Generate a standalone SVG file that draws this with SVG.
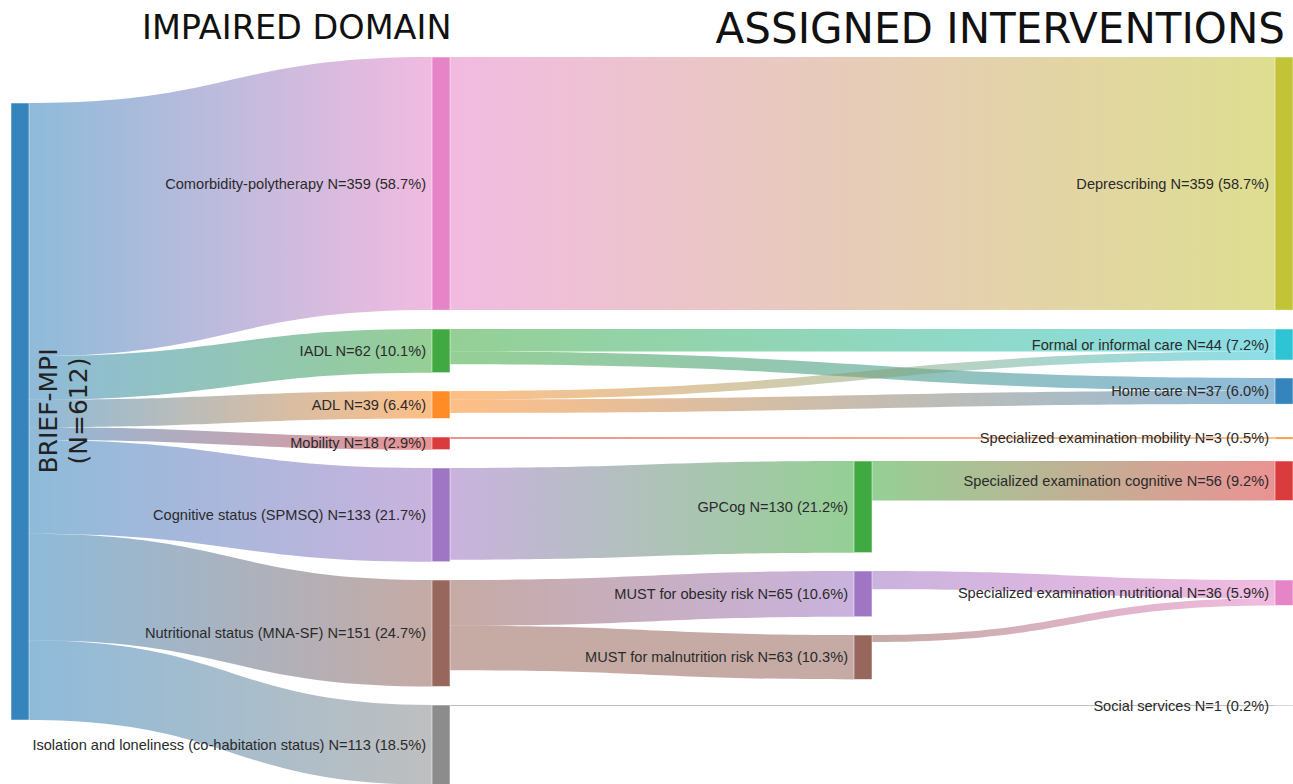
<svg xmlns="http://www.w3.org/2000/svg" width="1293" height="784" viewBox="0 0 1293 784">
<style>
.node{stroke:#fff;stroke-width:0.5;fill-opacity:0.9}
.link{fill-opacity:0.5;stroke:none}
.lbl{font-family:"Liberation Sans",Arial,sans-serif;font-size:14.6px;fill:#2a2a2a;text-anchor:end}
.title{font-family:"DejaVu Sans",Verdana,sans-serif;fill:#111}
.src{font-family:"DejaVu Sans",Verdana,sans-serif;font-size:25px;fill:#222;text-anchor:middle}
</style>
<defs>
<linearGradient id="g1" gradientUnits="userSpaceOnUse" x1="29" y1="0" x2="432" y2="0"><stop offset="0" stop-color="#1f77b4"/><stop offset="1" stop-color="#e377c2"/></linearGradient>
<linearGradient id="g2" gradientUnits="userSpaceOnUse" x1="29" y1="0" x2="432" y2="0"><stop offset="0" stop-color="#1f77b4"/><stop offset="1" stop-color="#2ca02c"/></linearGradient>
<linearGradient id="g3" gradientUnits="userSpaceOnUse" x1="29" y1="0" x2="432" y2="0"><stop offset="0" stop-color="#1f77b4"/><stop offset="1" stop-color="#ff7f0e"/></linearGradient>
<linearGradient id="g4" gradientUnits="userSpaceOnUse" x1="29" y1="0" x2="432" y2="0"><stop offset="0" stop-color="#1f77b4"/><stop offset="1" stop-color="#d62728"/></linearGradient>
<linearGradient id="g5" gradientUnits="userSpaceOnUse" x1="29" y1="0" x2="432" y2="0"><stop offset="0" stop-color="#1f77b4"/><stop offset="1" stop-color="#9467bd"/></linearGradient>
<linearGradient id="g6" gradientUnits="userSpaceOnUse" x1="29" y1="0" x2="432" y2="0"><stop offset="0" stop-color="#1f77b4"/><stop offset="1" stop-color="#8c564b"/></linearGradient>
<linearGradient id="g7" gradientUnits="userSpaceOnUse" x1="29" y1="0" x2="432" y2="0"><stop offset="0" stop-color="#1f77b4"/><stop offset="1" stop-color="#7f7f7f"/></linearGradient>
<linearGradient id="g8" gradientUnits="userSpaceOnUse" x1="450" y1="0" x2="1275" y2="0"><stop offset="0" stop-color="#e377c2"/><stop offset="1" stop-color="#bcbd22"/></linearGradient>
<linearGradient id="g9" gradientUnits="userSpaceOnUse" x1="450" y1="0" x2="1275" y2="0"><stop offset="0" stop-color="#2ca02c"/><stop offset="1" stop-color="#17becf"/></linearGradient>
<linearGradient id="g10" gradientUnits="userSpaceOnUse" x1="450" y1="0" x2="1275" y2="0"><stop offset="0" stop-color="#2ca02c"/><stop offset="1" stop-color="#1f77b4"/></linearGradient>
<linearGradient id="g11" gradientUnits="userSpaceOnUse" x1="450" y1="0" x2="1275" y2="0"><stop offset="0" stop-color="#ff7f0e"/><stop offset="1" stop-color="#17becf"/></linearGradient>
<linearGradient id="g12" gradientUnits="userSpaceOnUse" x1="450" y1="0" x2="1275" y2="0"><stop offset="0" stop-color="#ff7f0e"/><stop offset="1" stop-color="#1f77b4"/></linearGradient>
<linearGradient id="g13" gradientUnits="userSpaceOnUse" x1="450" y1="0" x2="1275" y2="0"><stop offset="0" stop-color="#d62728"/><stop offset="1" stop-color="#ff7f0e"/></linearGradient>
<linearGradient id="g14" gradientUnits="userSpaceOnUse" x1="450" y1="0" x2="854" y2="0"><stop offset="0" stop-color="#9467bd"/><stop offset="1" stop-color="#2ca02c"/></linearGradient>
<linearGradient id="g15" gradientUnits="userSpaceOnUse" x1="872" y1="0" x2="1275" y2="0"><stop offset="0" stop-color="#2ca02c"/><stop offset="1" stop-color="#d62728"/></linearGradient>
<linearGradient id="g16" gradientUnits="userSpaceOnUse" x1="450" y1="0" x2="854" y2="0"><stop offset="0" stop-color="#8c564b"/><stop offset="1" stop-color="#9467bd"/></linearGradient>
<linearGradient id="g17" gradientUnits="userSpaceOnUse" x1="450" y1="0" x2="854" y2="0"><stop offset="0" stop-color="#8c564b"/><stop offset="1" stop-color="#8c564b"/></linearGradient>
<linearGradient id="g18" gradientUnits="userSpaceOnUse" x1="872" y1="0" x2="1275" y2="0"><stop offset="0" stop-color="#9467bd"/><stop offset="1" stop-color="#e377c2"/></linearGradient>
<linearGradient id="g19" gradientUnits="userSpaceOnUse" x1="872" y1="0" x2="1275" y2="0"><stop offset="0" stop-color="#8c564b"/><stop offset="1" stop-color="#e377c2"/></linearGradient>
<linearGradient id="g20" gradientUnits="userSpaceOnUse" x1="450" y1="0" x2="1275" y2="0"><stop offset="0" stop-color="#7f7f7f"/><stop offset="1" stop-color="#7f7f7f"/></linearGradient>
</defs>
<rect width="1293" height="784" fill="#fff"/>
<text class="title" x="142" y="39" font-size="33.5">IMPAIRED DOMAIN</text>
<text class="title" x="1285" y="43" font-size="42" text-anchor="end">ASSIGNED INTERVENTIONS</text>
<g id="connectors">
<path class="link" fill="url(#g1)" d="M29,103 C230.5,103 230.5,57 432,57 L432,310.1 C230.5,310.1 230.5,356.1 29,356.1 Z"/>
<path class="link" fill="url(#g2)" d="M29,356.1 C230.5,356.1 230.5,329 432,329 L432,372.7 C230.5,372.7 230.5,399.8 29,399.8 Z"/>
<path class="link" fill="url(#g3)" d="M29,399.8 C230.5,399.8 230.5,391 432,391 L432,418.5 C230.5,418.5 230.5,427.3 29,427.3 Z"/>
<path class="link" fill="url(#g4)" d="M29,427.3 C230.5,427.3 230.5,437 432,437 L432,449.7 C230.5,449.7 230.5,440 29,440 Z"/>
<path class="link" fill="url(#g5)" d="M29,440 C230.5,440 230.5,468 432,468 L432,561.8 C230.5,561.8 230.5,533.8 29,533.8 Z"/>
<path class="link" fill="url(#g6)" d="M29,533.8 C230.5,533.8 230.5,580 432,580 L432,686.5 C230.5,686.5 230.5,640.3 29,640.3 Z"/>
<path class="link" fill="url(#g7)" d="M29,640.3 C230.5,640.3 230.5,705 432,705 L432,784.7 C230.5,784.7 230.5,720 29,720 Z"/>
<path class="link" fill="url(#g8)" d="M450,57 L1275,57 L1275,310.1 L450,310.1 Z"/>
<path class="link" fill="url(#g9)" d="M450,329 L1275,329 L1275,351.6 L450,351.6 Z"/>
<path class="link" fill="url(#g10)" d="M450,351.6 C862.5,351.6 862.5,378 1275,378 L1275,390.7 C862.5,390.7 862.5,364.3 450,364.3 Z"/>
<path class="link" fill="url(#g11)" d="M450,391 C862.5,391 862.5,351.6 1275,351.6 L1275,360 C862.5,360 862.5,399.5 450,399.5 Z"/>
<path class="link" fill="url(#g12)" d="M450,399.5 C862.5,399.5 862.5,390.7 1275,390.7 L1275,404.1 C862.5,404.1 862.5,412.9 450,412.9 Z"/>
<path class="link" fill="url(#g13)" d="M450,437 L1275,437 L1275,439.1 L450,439.1 Z"/>
<path class="link" fill="url(#g14)" d="M450,468 C652,468 652,461 854,461 L854,552.7 C652,552.7 652,559.7 450,559.7 Z"/>
<path class="link" fill="url(#g15)" d="M872,461 L1275,461 L1275,500.5 L872,500.5 Z"/>
<path class="link" fill="url(#g16)" d="M450,580 C652,580 652,571 854,571 L854,616.8 C652,616.8 652,625.8 450,625.8 Z"/>
<path class="link" fill="url(#g17)" d="M450,625.8 C652,625.8 652,635 854,635 L854,679.4 C652,679.4 652,670.2 450,670.2 Z"/>
<path class="link" fill="url(#g18)" d="M872,571 C1073.5,571 1073.5,580 1275,580 L1275,598.3 C1073.5,598.3 1073.5,589.3 872,589.3 Z"/>
<path class="link" fill="url(#g19)" d="M872,635 C1073.5,635 1073.5,598.3 1275,598.3 L1275,605.4 C1073.5,605.4 1073.5,642.1 872,642.1 Z"/>
<path class="link" fill="url(#g20)" d="M450,705 L1275,705 L1275,705.9 L450,705.9 Z"/>
</g>
<g id="n-brief"><rect class="node" x="11" y="103" width="18" height="617" fill="#1f77b4"/>
<text class="src" transform="translate(57,411) rotate(-90)">BRIEF-MPI</text>
<text class="src" transform="translate(87,411) rotate(-90)">(N=612)</text></g>
<g id="n-comorb"><rect class="node" x="432" y="57" width="18" height="253.1" fill="#e377c2"/><text class="lbl" x="426" y="188.6">Comorbidity-polytherapy N=359 (58.7%)</text></g>
<g id="n-iadl"><rect class="node" x="432" y="329" width="18" height="43.7" fill="#2ca02c"/><text class="lbl" x="426" y="355.9">IADL N=62 (10.1%)</text></g>
<g id="n-adl"><rect class="node" x="432" y="391" width="18" height="27.5" fill="#ff7f0e"/><text class="lbl" x="426" y="409.8">ADL N=39 (6.4%)</text></g>
<g id="n-mob"><rect class="node" x="432" y="437" width="18" height="12.7" fill="#d62728"/><text class="lbl" x="426" y="448.4">Mobility N=18 (2.9%)</text></g>
<g id="n-cog"><rect class="node" x="432" y="468" width="18" height="93.8" fill="#9467bd"/><text class="lbl" x="426" y="520">Cognitive status (SPMSQ) N=133 (21.7%)</text></g>
<g id="n-nutr"><rect class="node" x="432" y="580" width="18" height="106.5" fill="#8c564b"/><text class="lbl" x="426" y="638.4">Nutritional status (MNA-SF) N=151 (24.7%)</text></g>
<g id="n-iso"><rect class="node" x="432" y="705" width="18" height="79.7" fill="#7f7f7f"/><text class="lbl" x="426" y="750">Isolation and loneliness (co-habitation status) N=113 (18.5%)</text></g>
<g id="n-gpcog"><rect class="node" x="854" y="461" width="18" height="91.7" fill="#2ca02c"/><text class="lbl" x="848" y="512">GPCog N=130 (21.2%)</text></g>
<g id="n-obes"><rect class="node" x="854" y="571" width="18" height="45.8" fill="#9467bd"/><text class="lbl" x="848" y="599">MUST for obesity risk N=65 (10.6%)</text></g>
<g id="n-maln"><rect class="node" x="854" y="635" width="18" height="44.4" fill="#8c564b"/><text class="lbl" x="848" y="662.3">MUST for malnutrition risk N=63 (10.3%)</text></g>
<g id="n-depr"><rect class="node" x="1275" y="57" width="18" height="253.1" fill="#bcbd22"/><text class="lbl" x="1269" y="188.6">Deprescribing N=359 (58.7%)</text></g>
<g id="n-formal"><rect class="node" x="1275" y="329" width="18" height="31" fill="#17becf"/><text class="lbl" x="1269" y="349.6">Formal or informal care N=44 (7.2%)</text></g>
<g id="n-home"><rect class="node" x="1275" y="378" width="18" height="26.1" fill="#1f77b4"/><text class="lbl" x="1269" y="396.2">Home care N=37 (6.0%)</text></g>
<g id="n-specmob"><rect class="node" x="1275" y="437" width="18" height="2.1" fill="#ff7f0e"/><text class="lbl" x="1269" y="443.2">Specialized examination mobility N=3 (0.5%)</text></g>
<g id="n-speccog"><rect class="node" x="1275" y="461" width="18" height="39.5" fill="#d62728"/><text class="lbl" x="1269" y="485.8">Specialized examination cognitive N=56 (9.2%)</text></g>
<g id="n-specnutr"><rect class="node" x="1275" y="580" width="18" height="25.4" fill="#e377c2"/><text class="lbl" x="1269" y="597.8">Specialized examination nutritional N=36 (5.9%)</text></g>
<g id="n-social"><rect class="node" x="1275" y="705" width="18" height="0.9" fill="#7f7f7f"/><text class="lbl" x="1269" y="710.5">Social services N=1 (0.2%)</text></g>
</svg>
